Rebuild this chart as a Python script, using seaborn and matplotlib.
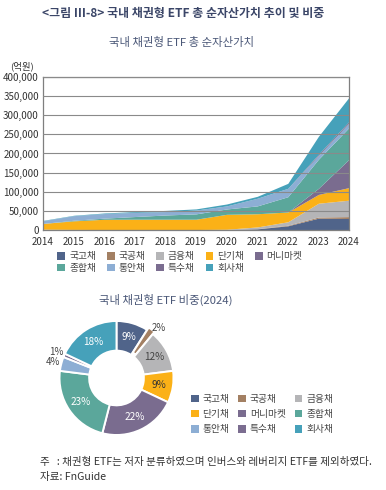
import numpy as np
import pandas as pd
import seaborn as sns
import matplotlib
matplotlib.use("Agg")
import matplotlib.pyplot as plt
from matplotlib.patches import Patch

sns.set_theme(style="white")
plt.rcParams['font.family'] = ['Noto Sans CJK KR', 'DejaVu Sans']

# ---------------- data ----------------
years = [2014, 2015, 2016, 2017, 2018, 2019, 2020, 2021, 2022, 2023, 2024]
categories = ["국고채", "국공채", "금융채", "단기채", "머니마켓", "종합채", "통안채", "특수채", "회사채"]
ktb      = [500, 500, 500, 500, 500, 500, 1000, 3000, 11000, 31000, 30000]
public   = [200, 200, 200, 200, 200, 200, 300, 500, 1500, 3000, 5000]
finance  = [1500, 800, 500, 500, 500, 500, 700, 4500, 9000, 36000, 43000]
short    = [15000, 22500, 26800, 27000, 27000, 27000, 39000, 34500, 25500, 23000, 33000]
mmf      = [0, 0, 0, 0, 0, 0, 0, 0, 0, 16000, 74000]
general  = [0, 1500, 3000, 7000, 11000, 14000, 14000, 20500, 40000, 76000, 83000]
msb      = [7000, 12000, 12000, 11000, 9000, 10000, 8000, 20000, 22000, 10000, 12000]
special  = [0, 0, 0, 0, 0, 0, 0, 0, 0, 3000, 4000]
corp     = [1000, 1000, 1500, 2000, 3000, 3000, 5000, 5000, 13000, 47000, 63000]
series = [ktb, public, finance, short, mmf, general, msb, special, corp]

pie_share = [9, 2, 12, 9, 22, 23, 4, 1, 18]
y_ticks = [0, 50000, 100000, 150000, 200000, 250000, 300000, 350000, 400000]

colors = ["#50648a", "#a38063", "#b5b5b7", "#fbb117", "#7a6c8f",
          "#5ba79b", "#8daed4", "#7b6d90", "#46a1ba"]

df = pd.DataFrame(dict(zip(categories, series)), index=years)

# ---------------- figure ----------------
W, H = 386, 490
fig = plt.figure(figsize=(W / 100, H / 100), dpi=100)

def fx(px):
    return px / W

def fy(py):
    return 1 - py / H

fig.text(fx(183), fy(13), "<그림 III-8> 국내 채권형 ETF 총 순자산가치 추이 및 비중",
         ha="center", va="center", fontsize=8.6, fontweight="bold", color="#3b4668")
fig.text(fx(182), fy(42), "국내 채권형 ETF 총 순자산가치",
         ha="center", va="center", fontsize=8.2, color="#4b5878")

# ---- stacked area ----
ax = fig.add_axes([fx(43), fy(230), fx(349) - fx(43), fy(77) - fy(230)])
ax.stackplot(df.index, [df[c].values for c in categories], colors=colors,
             linewidth=0, labels=categories)
ax.set_xlim(2014, 2024)
ax.set_ylim(0, 400000)
ax.set_xticks(years)
ax.set_yticks(y_ticks)
ax.set_yticklabels([f"{v:,}" for v in y_ticks])
ax.yaxis.grid(True, color="#8a8a8a", linewidth=0.8)
ax.set_axisbelow(False)
for g in ax.get_ygridlines():
    g.set_zorder(0.5)
for s in ax.spines.values():
    s.set_color("#7f7f7f")
    s.set_linewidth(0.9)
ax.tick_params(axis="x", direction="in", length=3, color="#9a9a9a", labelsize=7, pad=5,
               labelcolor="#333333")
ax.tick_params(axis="y", length=0, labelsize=7, pad=3, labelcolor="#333333")
fig.text(fx(22), fy(66), "(억원)", ha="center", va="center", fontsize=6.8, color="#333333")

# legend for area chart (row-major order via column-major reorder)
order = [0, 5, 1, 6, 2, 7, 3, 8, 4]
handles = [Patch(facecolor=colors[i], edgecolor="none") for i in order]
labels = [categories[i] for i in order]
fig.legend(handles, labels, ncol=5, loc="center", bbox_to_anchor=(fx(180), fy(262)),
           frameon=False, fontsize=7, handlelength=0.8, handleheight=0.8,
           handletextpad=0.4, columnspacing=1.1, labelspacing=0.15, labelcolor="#444444")

# ---- donut ----
fig.text(fx(166), fy(300), "국내 채권형 ETF 비중(2024)", ha="center", va="center",
         fontsize=8.2, color="#4b5878")
r = 57
pax = fig.add_axes([fx(116.5 - r), fy(378 + r), fx(2 * r), fy(0) - fy(2 * r)])
explode = [0, 0.05, 0, 0, 0, 0, 0, 0, 0]
wedges, _ = pax.pie(pie_share, colors=colors, startangle=90, counterclock=False,
                    explode=explode,
                    wedgeprops=dict(width=0.52, edgecolor="white", linewidth=1.4))
pax.set_xlim(-1, 1)
pax.set_ylim(-1, 1)
pax.set_aspect("equal")
pax.axis("off")

cum = 0
text_col = ["white", "#444444", "#444444", "#333333", "white", "white", "#444444", "#444444", "white"]
for i, v in enumerate(pie_share):
    mid = 90 - (cum + v / 2) * 3.6
    cum += v
    ang = np.deg2rad(mid)
    if v <= 4:
        rr = 1.15
        if i == 1:
            ang = np.deg2rad(50)
        pax.text(rr * np.cos(ang), rr * np.sin(ang), f"{v}%", ha="center", va="center",
                 fontsize=7, color="#444444")
    else:
        rr = 0.75
        pax.text(rr * np.cos(ang), rr * np.sin(ang), f"{v}%", ha="center", va="center",
                 fontsize=7.2, color=text_col[i])

# legend for pie (3x3, row-major)
order2 = [0, 3, 6, 1, 4, 7, 2, 5, 8]
handles2 = [Patch(facecolor=colors[i], edgecolor="none") for i in order2]
labels2 = [categories[i] for i in order2]
fig.legend(handles2, labels2, ncol=3, loc="center", bbox_to_anchor=(fx(262), fy(414)),
           frameon=False, fontsize=7, handlelength=0.8, handleheight=0.8,
           handletextpad=0.4, columnspacing=0.9, labelspacing=0.55, labelcolor="#444444")

# ---- footnote ----
fig.text(fx(40), fy(462), "주   : 채권형 ETF는 저자 분류하였으며 인버스와 레버리지 ETF를 제외하였다.",
         ha="left", va="center", fontsize=7.6, color="#333333")
fig.text(fx(40), fy(477), "자료: FnGuide", ha="left", va="center", fontsize=7.6, color="#333333")

fig.savefig("out.png", dpi=100)
